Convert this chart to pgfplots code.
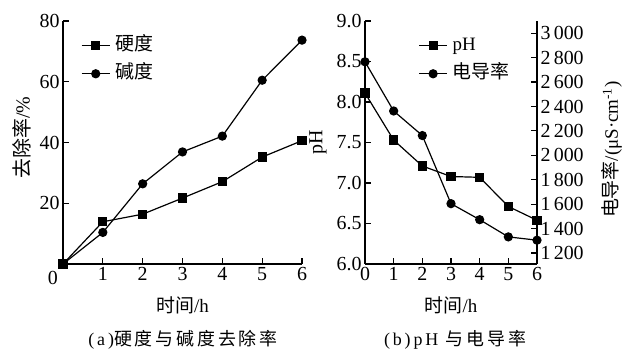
\documentclass[border=0pt]{standalone}
\usepackage{fontspec}
\setmainfont{Liberation Serif}
\newfontfamily\cjk{Noto Sans CJK SC}
\newfontfamily\cjkcap{Noto Sans CJK SC}[LetterSpace=16]
\newfontfamily\capfont{Liberation Serif}[LetterSpace=16]
\usepackage{pgfplots}
\pgfplotsset{compat=1.18}
\begin{document}
\begin{tikzpicture}
\useasboundingbox (0bp,0bp) rectangle (624bp,360bp);
\pgfplotsset{
  common/.style={
    scale only axis, clip=false, tick align=inside,
    major tick length=6bp,
    axis line style={line width=1.2bp, black},
    every tick/.style={line width=1.2bp, black},
    tick label style={font=\fontsize{20}{20}\selectfont},
    /pgf/number format/assume math mode=true,
    label style={font=\fontsize{20}{20}\selectfont},
    legend style={draw=none, fill=none, font=\fontsize{19}{19}\selectfont,
      row sep=8bp, inner sep=0pt,
      nodes={inner sep=1bp, inner xsep=5bp, text height=14bp, text depth=4bp}},
    legend cell align=left,
    legend image code/.code={\draw[mark repeat=2,mark phase=2,##1] plot coordinates {(0bp,0bp) (14bp,0bp) (28bp,0bp)};},
  },
  sq/.style={black, line width=1.2bp, mark=square*, mark size=4bp, mark options={solid}},
  ci/.style={black, line width=1.2bp, mark=*, mark size=4bp, mark options={solid}},
}
% (a)
\begin{axis}[common, at={(63bp,96bp)}, anchor=south west, width=239bp, height=243bp,
  xmin=0, xmax=6, ymin=0, ymax=80,
  axis x line*=bottom, axis y line*=left,
  xtick={1,...,6}, ytick={20,40,60,80},
  xlabel={{\cjk 时间}/h}, ylabel={{\cjk 去除率}/\%},
  xlabel style={font=\fontsize{19}{19}\selectfont, at={(axis description cs:0.5,-0.169)}, anchor=center},
  ylabel style={at={(axis description cs:-0.172,0.52)}, anchor=center},
  legend style={at={(axis description cs:0.075,0.94)}, anchor=north west},
]
\addplot[sq] coordinates {(0,0) (1,13.9) (2,16.4) (3,21.7) (4,27.1) (5,35.2) (6,40.6)};
\addlegendentry{\cjk 硬度}
\addplot[ci] coordinates {(0,0) (1,10.4) (2,26.4) (3,36.9) (4,42.1) (5,60.5) (6,73.7)};
\addlegendentry{\cjk 碱度}
\end{axis}
% (b) pH
\begin{axis}[common, at={(365bp,96bp)}, anchor=south west, width=172bp, height=243bp,
  xmin=0, xmax=6, ymin=6, ymax=9,
  axis x line*=bottom, axis y line*=left,
  xtick={0,...,6}, ytick={6,6.5,...,9},
  yticklabel style={/pgf/number format/.cd, fixed, fixed zerofill, precision=1},
  xlabel={{\cjk 时间}/h}, ylabel={pH},
  xlabel style={font=\fontsize{19}{19}\selectfont, at={(axis description cs:0.5,-0.169)}, anchor=center},
  ylabel style={at={(axis description cs:-0.273,0.5)}, anchor=center},
]
\addplot[sq] coordinates {(0,8.11) (1,7.53) (2,7.21) (3,7.08) (4,7.07) (5,6.71) (6,6.54)};
\end{axis}
% (b) conductivity
\begin{axis}[common, at={(365bp,96bp)}, anchor=south west, width=172bp, height=243bp,
  xmin=0, xmax=6, ymin=1110, ymax=3100,
  axis x line=none, axis y line*=right,
  ytick={1200,1400,...,3000}, scaled y ticks=false,
  yticklabel style={/pgf/number format/.cd, 1000 sep={\,}},
  ylabel={{\cjk 电导率}/(μS·cm\textsuperscript{-1})},
  ylabel style={font=\fontsize{19}{19}\selectfont, at={(axis description cs:1.436,0.47)}, anchor=center},
  legend style={at={(axis description cs:0.31,0.94)}, anchor=north west},
]
\addlegendimage{sq}
\addlegendentry{pH}
\addplot[ci] coordinates {(0,2766) (1,2363) (2,2162) (3,1604) (4,1473) (5,1332) (6,1305)};
\addlegendentry{\cjk 电导率}
\end{axis}
\node[anchor=north east, inner sep=0pt, font=\fontsize{20}{20}\selectfont] at (58bp,89bp) {0};
\node[anchor=center] at (183bp,20bp) {\fontsize{18}{18}\selectfont\capfont (a)\cjkcap 硬度与碱度去除率};
\node[anchor=center] at (455bp,20bp) {\fontsize{18}{18}\selectfont\capfont (b)pH \cjkcap 与电导率};
\end{tikzpicture}
\end{document}
